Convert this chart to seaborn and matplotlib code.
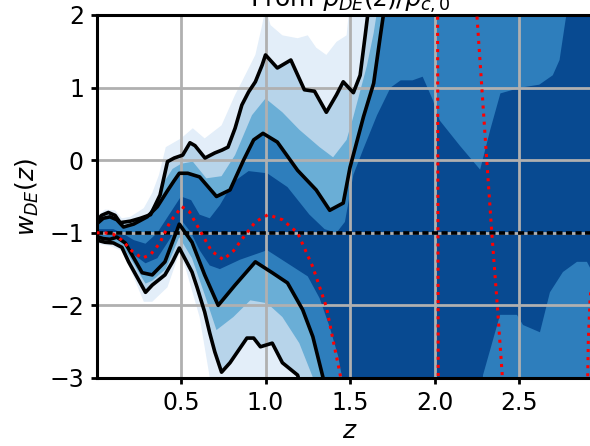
import numpy as np
import matplotlib
matplotlib.use("Agg")
import matplotlib.pyplot as plt
import seaborn as sns

# ---------------- data ----------------
# 2-sigma contour lines (upper / lower)
z_up2 = [0.0, 0.03, 0.07, 0.11, 0.14, 0.20, 0.26, 0.32, 0.376, 0.42, 0.46, 0.51, 0.553, 0.583, 0.642,
         0.70, 0.743, 0.778, 0.82, 0.86, 0.90, 0.94, 0.98, 1.00, 1.07, 1.15, 1.23, 1.29, 1.36, 1.42,
         1.46, 1.52, 1.56, 1.59, 1.61, 3.0]
w_up2 = [-0.84, -0.76, -0.72, -0.76, -0.86, -0.84, -0.80, -0.75, -0.48, -0.02, 0.03, 0.07, 0.24, 0.20, 0.03,
         0.10, 0.14, 0.18, 0.44, 0.76, 0.94, 1.08, 1.31, 1.45, 1.27, 1.38, 0.97, 0.95, 0.66, 0.90,
         1.08, 0.93, 1.17, 1.72, 2.10, 2.2]
z_lo2 = [0.0, 0.05, 0.10, 0.15, 0.19, 0.29, 0.33, 0.405, 0.45, 0.49, 0.565, 0.595, 0.64, 0.67, 0.70,
         0.74, 0.79, 0.89, 0.93, 0.97, 1.04, 1.10, 1.19, 1.22, 3.0]
w_lo2 = [-1.10, -1.13, -1.14, -1.20, -1.40, -1.82, -1.72, -1.58, -1.40, -1.21, -1.54, -1.75, -2.09, -2.38, -2.64,
         -2.92, -2.79, -2.45, -2.45, -2.57, -2.52, -2.79, -2.96, -3.20, -3.2]
# 1-sigma contour lines (upper / lower)
z_up1 = [0.0, 0.04, 0.08, 0.12, 0.16, 0.22, 0.30, 0.36, 0.42, 0.46, 0.49, 0.54, 0.61, 0.71, 0.79,
         0.87, 0.93, 0.985, 1.07, 1.19, 1.30, 1.38, 1.46, 1.50, 1.58, 1.64, 1.68, 1.71, 3.0]
w_up1 = [-0.88, -0.80, -0.78, -0.82, -0.92, -0.88, -0.78, -0.64, -0.42, -0.28, -0.18, -0.18, -0.23, -0.50, -0.41,
         0.00, 0.28, 0.37, 0.25, -0.14, -0.41, -0.69, -0.59, -0.10, 0.60, 1.06, 1.72, 2.20, 2.2]
z_lo1 = [0.0, 0.04, 0.08, 0.12, 0.17, 0.27, 0.33, 0.405, 0.49, 0.565, 0.64, 0.72, 0.82, 0.94, 1.04,
         1.13, 1.22, 1.28, 1.34, 1.36, 3.0]
w_lo1 = [-1.05, -1.08, -1.09, -1.06, -1.14, -1.55, -1.58, -1.40, -0.88, -1.13, -1.58, -2.00, -1.72, -1.40, -1.55,
         -1.69, -2.06, -2.43, -2.99, -3.20, -3.2]

# intermediate shading boundaries (0.5, 1.5 and 2.5 sigma)
z_up05 = [0.0, 0.10, 0.15, 0.22, 0.29, 0.36, 0.43, 0.50, 0.56, 0.61, 0.67, 0.73, 0.81, 0.90, 1.01,
          1.13, 1.26, 1.35, 1.42, 1.47, 1.52, 1.58, 1.66, 1.74, 1.80, 1.87, 1.93, 1.99, 2.03, 2.15,
          2.27, 2.33, 2.39, 2.51, 2.62, 2.70, 2.74, 2.78, 2.80, 3.00]
w_up05 = [-0.95, -0.95, -1.00, -1.10, -1.15, -1.00, -0.75, -0.50, -0.55, -0.75, -0.80, -0.62, -0.30, -0.15, -0.18,
          -0.37, -0.75, -0.95, -1.00, -0.85, -0.20, 0.16, 0.62, 1.00, 1.10, 1.10, 1.15, 0.83, 0.55, 0.20,
          -0.13, 0.42, 0.92, 1.00, 1.04, 1.17, 1.38, 2.00, 2.20, 2.20]
z_lo05 = [0.0, 0.10, 0.15, 0.22, 0.29, 0.36, 0.43, 0.50, 0.56, 0.61, 0.67, 0.73, 0.85, 1.01, 1.15,
          1.25, 1.32, 1.38, 1.43, 1.47, 2.28, 2.287, 2.388, 2.488, 2.524, 2.624, 2.683, 2.76, 2.843, 2.902,
          2.92, 3.00]
w_lo05 = [-1.02, -1.03, -1.12, -1.30, -1.42, -1.35, -1.10, -0.82, -1.00, -1.24, -1.45, -1.50, -1.37, -1.24, -1.45,
          -1.60, -1.90, -2.30, -2.70, -3.20, -3.20, -2.96, -2.13, -2.13, -2.27, -2.37, -1.82, -1.54, -1.40, -1.40,
          -1.48, -1.50]
z_up15 = [0.0, 0.04, 0.08, 0.12, 0.16, 0.22, 0.30, 0.36, 0.40, 0.45, 0.50, 0.57, 0.65, 0.74, 0.82,
          0.92, 1.00, 1.10, 1.20, 1.32, 1.40, 1.48, 1.52, 1.60, 1.64, 1.67, 3.0]
w_up15 = [-0.86, -0.78, -0.76, -0.80, -0.90, -0.86, -0.76, -0.55, -0.30, -0.12, -0.05, -0.02, -0.25, -0.22, 0.07,
          0.62, 0.85, 0.66, 0.42, 0.18, 0.04, 0.28, 0.60, 1.30, 1.75, 2.20, 2.2]
z_lo15 = [0.0, 0.08, 0.15, 0.20, 0.29, 0.33, 0.41, 0.49, 0.565, 0.64, 0.71, 0.81, 0.91, 1.01, 1.10,
          1.20, 1.28, 1.30, 3.0]
w_lo15 = [-1.08, -1.11, -1.17, -1.35, -1.70, -1.66, -1.50, -1.06, -1.35, -1.85, -2.34, -2.16, -1.93, -1.97, -2.16,
          -2.52, -2.99, -3.20, -3.2]
z_up25 = [0.0, 0.05, 0.11, 0.15, 0.20, 0.28, 0.33, 0.37, 0.41, 0.50, 0.57, 0.64, 0.74, 0.82, 0.86,
          0.94, 0.98, 1.00, 1.03, 1.10, 1.19, 1.25, 1.30, 1.36, 1.42, 1.48, 1.50, 3.0]
w_up25 = [-0.78, -0.68, -0.69, -0.80, -0.78, -0.66, -0.45, -0.20, 0.18, 0.30, 0.44, 0.30, 0.48, 0.90, 1.08,
          1.45, 1.86, 2.10, 1.86, 1.72, 1.68, 1.72, 1.55, 1.45, 1.63, 1.72, 2.20, 2.2]
z_lo25 = [0.0, 0.08, 0.15, 0.20, 0.28, 0.33, 0.42, 0.49, 0.53, 0.61, 0.67, 0.69, 3.0]
w_lo25 = [-1.15, -1.18, -1.25, -1.50, -1.95, -1.95, -1.75, -1.28, -1.51, -2.16, -2.99, -3.20, -3.2]

# red dotted curve (several branches)
z_red1 = [0.0, 0.05, 0.10, 0.15, 0.21, 0.27, 0.32, 0.375, 0.435, 0.505, 0.55, 0.61, 0.68, 0.75, 0.81,
          0.87, 0.94, 1.015, 1.10, 1.19, 1.28, 1.36, 1.40, 1.44, 1.46]
w_red1 = [-1.00, -1.00, -1.02, -1.10, -1.25, -1.35, -1.30, -1.14, -0.85, -0.64, -0.71, -0.96, -1.25, -1.37, -1.25,
          -1.06, -0.85, -0.75, -0.82, -1.00, -1.47, -2.02, -2.48, -2.93, -3.20]
z_red2 = [2.018, 2.020, 2.022]
w_red2 = [2.2, -0.5, -3.2]
z_red3 = [2.245, 2.28, 2.31, 2.34, 2.37, 2.40, 2.405]
w_red3 = [2.2, 1.0, -0.03, -1.03, -1.95, -2.93, -3.2]
z_red4 = [2.905, 2.91, 2.92, 2.95, 3.0]
w_red4 = [-3.2, -2.5, -1.95, -1.0, 0.5]

w_lcdm = -1.0
x_ticks = [0.5, 1.0, 1.5, 2.0, 2.5]
y_ticks = [-3, -2, -1, 0, 1, 2]

# ---------------- style ----------------
sns.set_theme(style="ticks", rc={
    "axes.edgecolor": "black", "axes.linewidth": 2.2,
    "xtick.color": "black", "ytick.color": "black",
    "xtick.major.width": 2.0, "ytick.major.width": 2.0,
    "xtick.major.size": 4, "ytick.major.size": 4,
    "text.color": "black", "axes.labelcolor": "black",
    "grid.color": "#b0b0b0", "grid.linewidth": 2.0,
    "axes.axisbelow": "line",
})
plt.rcParams["font.family"] = ["DejaVu Sans"]
plt.rcParams["mathtext.fontset"] = "dejavusans"

fig = plt.figure(figsize=(5.9, 4.46), dpi=100)
ax = fig.add_axes([96.5 / 590, 68 / 446, 507 / 590, 363 / 446])

blues = sns.color_palette("Blues", as_cmap=True)
bands = [  # lightest (outermost) first
    (z_up25, w_up25, z_lo25, w_lo25, 0.1),
    (z_up2, w_up2, z_lo2, w_lo2, 0.3),
    (z_up15, w_up15, z_lo15, w_lo15, 0.5),
    (z_up1, w_up1, z_lo1, w_lo1, 0.7),
    (z_up05, w_up05, z_lo05, w_lo05, 0.9),
]
for zu, wu, zl, wl, level in bands:
    px = np.concatenate([zu, zl[::-1]])
    py = np.concatenate([wu, wl[::-1]])
    ax.fill(px, py, facecolor=blues(level), edgecolor="none", lw=0, zorder=1)

ax.grid(True, which="major")

# contour lines
for zz, ww in [(z_up2, w_up2), (z_lo2, w_lo2), (z_up1, w_up1), (z_lo1, w_lo1)]:
    sns.lineplot(x=zz, y=ww, ax=ax, color="black", lw=2.6, sort=False, estimator=None, zorder=3)

# LCDM line
ax.axhline(w_lcdm, color="black", lw=2.6, linestyle=(0, (1.7, 0.95)), zorder=3)

# red dotted curve
for zz, ww in [(z_red1, w_red1), (z_red2, w_red2), (z_red3, w_red3), (z_red4, w_red4)]:
    sns.lineplot(x=zz, y=ww, ax=ax, color="red", lw=2.2, linestyle=":", sort=False, estimator=None, zorder=4)

ax.set_xlim(0, 3)
ax.set_ylim(-3, 2)
ax.set_xticks(x_ticks)
ax.set_yticks(y_ticks)
ax.tick_params(labelsize=17, pad=5)
ax.set_xlabel("$z$", fontsize=18, labelpad=3)
ax.set_ylabel("$w_{DE}(z)$", fontsize=18, labelpad=6)
ax.set_title(r"From $\rho_{DE}(z)/\rho_{c,0}$", fontsize=18)

fig.savefig("out.png", dpi=100)
